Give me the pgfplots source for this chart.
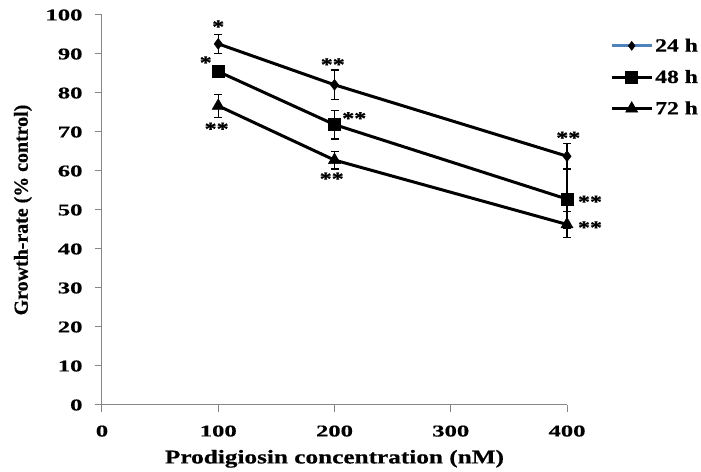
\documentclass[border=0pt]{standalone}
\usepackage{fontspec}
\setmainfont{Liberation Serif}
\newfontfamily\tickf{Liberation Serif}[FakeStretch=1.5, FakeBold=0.6]
\newfontfamily\labf{Liberation Serif}[FakeStretch=1.3, FakeBold=0.6]
\newfontfamily\legf{Liberation Serif}[FakeStretch=1.27, FakeBold=0.6]
\newfontfamily\ylabf{Liberation Serif}[FakeBold=0.6]
\usepackage{pgfplots}
\pgfplotsset{compat=1.18}
\definecolor{axgray}{RGB}{134,134,134}
\definecolor{legblue}{RGB}{79,129,189}

\pgfplotstableread{
x y e
100 92.6 2.4
200 82.1 3.8
400 63.8 3.2
}\tfour
\pgfplotstableread{
x y e
100 85.5 1.0
200 71.9 3.7
400 52.8 7.5
}\feight
\pgfplotstableread{
x y e
100 76.7 2.9
200 62.8 2.3
400 46.3 3.3
}\sevtwo

\begin{document}
\begin{tikzpicture}
\begin{axis}[
  at={(0,0)}, anchor=south west,
  scale only axis, width=465bp, height=390bp,
  xmin=0, xmax=400, ymin=0, ymax=100,
  xtick={0,100,200,300,400}, ytick={0,10,...,100},
  axis x line*=bottom, axis y line*=left,
  axis line style={axgray, line width=1bp},
  tick style={axgray, line width=1bp},
  tick align=outside, major tick length=7bp,
  /pgf/number format/assume math mode=true,
  tick label style={font=\tickf\bfseries\fontsize{16.5}{18}\selectfont, text=black},
  x tick label style={yshift=-10bp},
  y tick label style={xshift=-9bp},
  xlabel={Prodigiosin concentration (nM)},
  ylabel={Growth-rate (\% control)},
  xlabel style={font=\labf\bfseries\fontsize{19.5}{21}\selectfont, at={(axis description cs:0.5,-0.138)}, anchor=center},
  ylabel style={font=\ylabf\bfseries\fontsize{20}{22}\selectfont, at={(axis description cs:-0.170,0.5)}, anchor=center, rotate=0},
  legend style={at={(1.0925,0.945)}, anchor=north west, draw=none, fill=none,
    font=\legf\bfseries\fontsize{18.7}{20}\selectfont, row sep=13bp, inner sep=0pt,
    /tikz/every even column/.append style={column sep=2bp}},
  legend cell align=left,
  legend image code/.code={\draw[mark repeat=2,mark phase=2,#1] plot coordinates {(0bp,0bp) (20bp,0bp) (40bp,0bp)};},
  clip=false,
]
\addlegendimage{legblue, line width=3bp, mark=diamond*, mark size=4.5bp, mark options={black, fill=black, line width=0.5bp}}
\addplot[black, line width=3bp, mark=diamond*, mark size=5.5bp, mark options={line width=0.5bp}, forget plot,
  error bars/.cd, y dir=both, y explicit,
  error bar style={black, line width=1.2bp},
  error mark options={rotate=90, mark size=4bp, black, line width=1.2bp}]
  table[x=x, y=y, y error=e] {\tfour};
\addplot[black, line width=3bp, mark=square*, mark size=6bp, mark options={solid, line width=0.5bp},
  error bars/.cd, y dir=both, y explicit,
  error bar style={black, line width=1.2bp},
  error mark options={rotate=90, mark size=4bp, black, line width=1.2bp}]
  table[x=x, y=y, y error=e] {\feight};
\addplot[black, line width=3bp, mark=triangle*, mark size=7bp, mark options={line width=0.5bp},
  error bars/.cd, y dir=both, y explicit,
  error bar style={black, line width=1.2bp},
  error mark options={rotate=90, mark size=4bp, black, line width=1.2bp}]
  table[x=x, y=y, y error=e] {\sevtwo};
\legend{24 h, 48 h, 72 h}
\addplot[draw=none, mark=none, forget plot, nodes near coords, point meta=explicit symbolic,
  nodes near coords style={anchor=base, text=black, inner sep=0pt, font=\legf\bfseries\fontsize{19}{20}\selectfont}]
  coordinates {
  (100,95.4) [*]
  (89.2,86.2) [*]
  (98.6,69.2) [**]
  (198.5,85.7) [**]
  (217,71.9) [**]
  (197.6,56.4) [**]
  (401.1,66.9) [**]
  (419.8,50.5) [**]
  (419.8,43.9) [**]
  };
\end{axis}
\path[use as bounding box] (-102bp,-65bp) rectangle (599bp,405bp);
\end{tikzpicture}
\end{document}
